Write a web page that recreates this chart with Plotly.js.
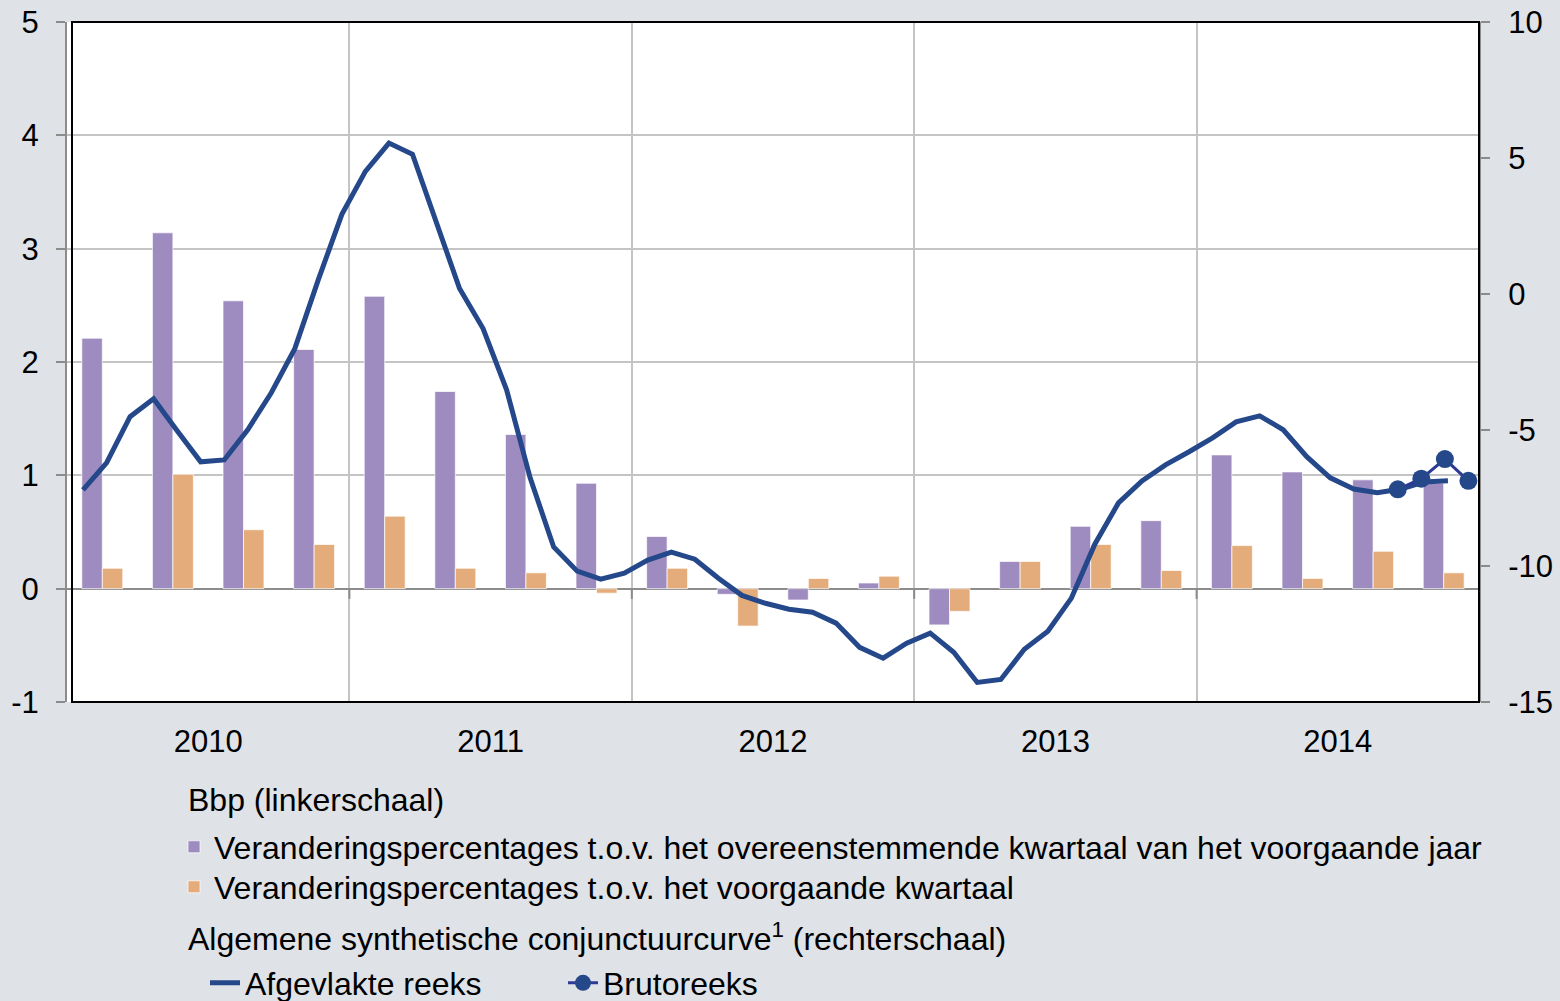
<!DOCTYPE html>
<html>
<head>
<meta charset="utf-8">
<script src="https://cdn.plot.ly/plotly-3.0.1.min.js"></script>
<style>
  html, body { margin: 0; padding: 0; background: #dfe2e7; }
  #chart { width: 1560px; height: 1001px; }
</style>
</head>
<body>
<div id="chart"></div>
<script>
// ---- Data ----
const years = ['2010', '2011', '2012', '2013', '2014'];
const quarterIndex = [0,1,2,3,4,5,6,7,8,9,10,11,12,13,14,15,16,17,18,19]; // 2010Q1 .. 2014Q4
const bbpYoY = [2.21, 3.14, 2.54, 2.11, 2.58, 1.74, 1.36, 0.93, 0.46, -0.05,
                -0.10, 0.05, -0.32, 0.24, 0.55, 0.60, 1.18, 1.03, 0.96, 0.93];
const bbpQoQ = [0.18, 1.01, 0.52, 0.39, 0.64, 0.18, 0.14, -0.04, 0.18, -0.33,
                0.09, 0.11, -0.20, 0.24, 0.39, 0.16, 0.38, 0.09, 0.33, 0.14];
// monthly, Jan 2010 .. Nov 2014
const smoothed = [-7.20, -6.21, -4.51, -3.85, -5.03, -6.17, -6.10, -4.99, -3.63, -2.01,
                  0.53, 2.93, 4.51, 5.55, 5.14, 2.67, 0.20, -1.27, -3.52, -6.76,
                  -9.30, -10.19, -10.48, -10.26, -9.78, -9.49, -9.75, -10.45, -11.08, -11.37,
                  -11.59, -11.70, -12.10, -12.99, -13.39, -12.84, -12.47, -13.17, -14.28, -14.17,
                  -13.06, -12.40, -11.18, -9.19, -7.68, -6.87, -6.28, -5.80, -5.29, -4.70,
                  -4.48, -4.99, -5.98, -6.76, -7.17, -7.31, -7.17, -6.91, -6.87];
// monthly, Sep 2014 .. Dec 2014
const brutoStartMonth = 56;
const bruto = [-7.18, -6.79, -6.07, -6.87];

const leftTicks = [-1, 0, 1, 2, 3, 4, 5];
const rightTicks = [-15, -10, -5, 0, 5, 10];

const titleBbp = 'Bbp (linkerschaal)';
const titleCurve = 'Algemene synthetische conjunctuurcurve<sup>1</sup> (rechterschaal)';
const labelYoY = 'Veranderingspercentages t.o.v. het overeenstemmende kwartaal van het voorgaande jaar';
const labelQoQ = 'Veranderingspercentages t.o.v. het voorgaande kwartaal';
const labelSmooth = 'Afgevlakte reeks';
const labelBruto = 'Brutoreeks';

// ---- Geometry ----
const W = 1560, H = 1001;
const M = { l: 67, r: 81, t: 22, b: 299 };
const plotW = W - M.l - M.r, plotH = H - M.t - M.b;
const px2paperX = px => (px - M.l) / plotW;
const px2paperY = py => (H - M.b - py) / plotH;
const cx = px => px / W;
const cy = py => 1 - py / H;

// month units on x axis: 0 = start of Jan 2010
const qx = quarterIndex.map(q => q * 3 + 1.5);
const mxSmooth = smoothed.map((_, i) => i + 0.68);
const mxBruto = bruto.map((_, i) => brutoStartMonth + i + 0.55);

const FONT = 'Liberation Sans, Arial, sans-serif';
const lineBlue = '#24488a';
const TICKSIZE = 31, LEGSIZE = 32;

const traces = [
  { type: 'bar', x: qx, y: bbpYoY, name: labelYoY, legend: 'legend',
    marker: { color: '#9e8bbf', line: { color: 'rgba(255,255,255,0.7)', width: 1 } }, yaxis: 'y' },
  { type: 'bar', x: qx, y: bbpQoQ, name: labelQoQ, legend: 'legend2',
    marker: { color: '#e4ac7a', line: { color: 'rgba(255,255,255,0.7)', width: 1 } }, yaxis: 'y' },
  { type: 'scatter', mode: 'lines', x: mxSmooth, y: smoothed, name: labelSmooth, legend: 'legend3',
    line: { color: lineBlue, width: 5 }, yaxis: 'y2' },
  { type: 'scatter', mode: 'lines+markers', x: mxBruto, y: bruto, name: labelBruto, legend: 'legend4',
    line: { color: '#2d3a98', width: 3 }, marker: { color: lineBlue, size: 18 }, yaxis: 'y2' }
];

const shapes = [
  { type: 'rect', xref: 'paper', yref: 'paper', x0: px2paperX(72), x1: 1, y0: 0, y1: 1,
    line: { color: '#000', width: 2 }, layer: 'above' }
];
for (let k = 1; k < years.length; k++) {
  shapes.push({ type: 'line', xref: 'x', yref: 'y', x0: k * 12, x1: k * 12, y0: 0, y1: -0.09,
    line: { color: '#8c8c8c', width: 2 }, layer: 'above' });
}

function legendAt(leftPx, centerPy) {
  return {
    xref: 'container', yref: 'container',
    x: cx(leftPx), xanchor: 'left', y: cy(centerPy), yanchor: 'middle',
    orientation: 'v', bgcolor: 'rgba(0,0,0,0)', borderwidth: 0,
    font: { family: FONT, size: LEGSIZE, color: '#000' }
  };
}

const layout = {
  width: W, height: H,
  paper_bgcolor: '#dfe2e7', plot_bgcolor: '#ffffff',
  margin: { l: M.l, r: M.r, t: M.t, b: M.b, autoexpand: false },
  font: { family: FONT, size: TICKSIZE, color: '#000' },
  barmode: 'group', bargap: 0.42, bargroupgap: 0,
  showlegend: true,
  xaxis: {
    range: [0, 60], tickvals: years.map((_, i) => i * 12 + 6), ticktext: years,
    showgrid: false, zeroline: false, ticks: '', showline: false,
    ticklabelstandoff: 18, tickfont: { size: TICKSIZE },
    minor: { tick0: 0, dtick: 12, showgrid: true, gridcolor: '#c4c4c4', gridwidth: 2, ticks: '' }
  },
  yaxis: {
    range: [-1, 5], tickvals: leftTicks, ticktext: leftTicks.map(String),
    showgrid: true, gridcolor: '#c4c4c4', gridwidth: 2,
    zeroline: true, zerolinecolor: '#8c8c8c', zerolinewidth: 2,
    showline: true, linecolor: '#8c8c8c', linewidth: 2,
    ticks: 'outside', ticklen: 9, tickwidth: 2, tickcolor: '#8c8c8c',
    ticklabelstandoff: 11, tickfont: { size: TICKSIZE }
  },
  yaxis2: {
    range: [-15, 10], tickvals: rightTicks, ticktext: rightTicks.map(String),
    overlaying: 'y', side: 'right',
    showgrid: false, zeroline: false,
    showline: true, linecolor: '#8c8c8c', linewidth: 2,
    ticks: 'outside', ticklen: 9, tickwidth: 2, tickcolor: '#8c8c8c',
    ticklabelstandoff: 12, tickfont: { size: TICKSIZE }
  },
  legend: legendAt(174, 847),
  legend2: legendAt(174, 887),
  legend3: legendAt(205, 983),
  legend4: legendAt(563, 983),
  annotations: [
    { xref: 'paper', yref: 'paper', x: px2paperX(186), y: px2paperY(800), xanchor: 'left', yanchor: 'middle',
      text: titleBbp, showarrow: false, font: { family: FONT, size: LEGSIZE, color: '#000' } },
    { xref: 'paper', yref: 'paper', x: px2paperX(186), y: px2paperY(937), xanchor: 'left', yanchor: 'middle',
      text: titleCurve, showarrow: false, font: { family: FONT, size: LEGSIZE, color: '#000' } }
  ],
  shapes: shapes
};

Plotly.newPlot('chart', traces, layout, { displayModeBar: false, staticPlot: true });
</script>
</body>
</html>
